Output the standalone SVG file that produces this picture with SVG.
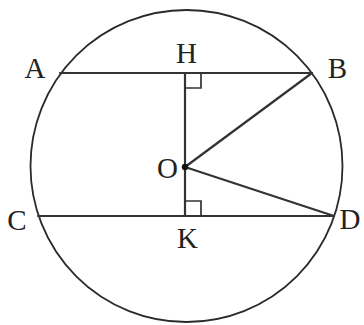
<svg xmlns="http://www.w3.org/2000/svg" width="364" height="325" viewBox="0 0 364 325">
<style>
.ln{stroke:#333;stroke-width:2.2;fill:none;stroke-linecap:round}
.c{stroke:#2a2a2a;stroke-width:1.8;fill:none}
.ra{stroke:#333;stroke-width:1.7;fill:none}
.t{font-family:"Liberation Serif","Times New Roman",serif;font-size:29px;fill:#222;text-anchor:middle}
</style>
<rect width="364" height="325" fill="#fff"/>
<g id="circle"><circle class="c" cx="186.5" cy="166" r="156"/></g>
<g id="connectors">
<line class="ln" x1="60" y1="73" x2="312" y2="73"/>
<line class="ln" x1="38" y1="216" x2="334" y2="216"/>
<line class="ln" x1="185" y1="73" x2="185" y2="216"/>
<line class="ln" x1="185" y1="167" x2="312" y2="73"/>
<line class="ln" x1="185" y1="167" x2="334" y2="216"/>
<polyline class="ra" points="185,88 201,88 201,73"/>
<polyline class="ra" points="185,201 201,201 201,216"/>
</g>
<g id="O"><circle cx="185" cy="167" r="3.2" fill="#111"/><text class="t" x="167.5" y="177.5">O</text></g>
<g id="A"><text class="t" x="35" y="77.5">A</text></g>
<g id="H"><text class="t" x="186.5" y="63">H</text></g>
<g id="B"><text class="t" x="337.5" y="77.5">B</text></g>
<g id="C"><text class="t" x="17" y="229.5">C</text></g>
<g id="K"><text class="t" x="187.5" y="248">K</text></g>
<g id="D"><text class="t" x="350" y="228.5">D</text></g>
</svg>
